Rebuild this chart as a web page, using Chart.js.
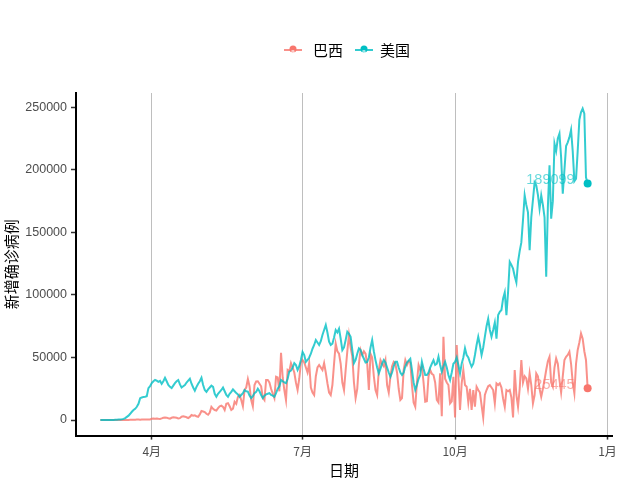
<!DOCTYPE html>
<html>
<head>
<meta charset="utf-8">
<script src="https://cdn.jsdelivr.net/npm/chart.js@4.4.1/dist/chart.umd.min.js"></script>
<style>
  html, body { margin: 0; padding: 0; background: #fff; }
</style>
</head>
<body>
<canvas id="casosChart" width="640" height="480"></canvas>
<script>
// Datos: casos nuevos diarios desde el 1 de marzo de 2020 (dia 0) hasta el 20 de diciembre
const series = ['巴西', '美国'];
const colores = ['#F8766D', '#00BFC4'];
const coloresLinea = ['rgba(248,118,109,0.8)', 'rgba(0,191,196,0.8)'];
const coloresTexto = ['rgba(248,118,109,0.6)', 'rgba(0,191,196,0.6)'];

const brasil = [
  0, 0, 0, 1, 1, 2, 5, 5, 10, 5,
  10, 20, 25, 30, 40, 60, 100, 120, 150, 200,
  250, 300, 350, 400, 300, 450, 500, 400, 500, 350,
  500, 1100, 1200, 1100, 1200, 1000, 900, 1300, 1800, 2100,
  1900, 1400, 1100, 1800, 2200, 2000, 1800, 1300, 1500, 2700,
  3000, 2700, 2200, 1500, 2500, 4000, 3500, 3800, 3000, 2500,
  4500, 7200, 6800, 6300, 5000, 4200, 6000, 10600, 9000, 8000,
  7500, 9500, 11000, 11500, 10500, 8000, 13000, 13500, 11000, 8000,
  9000, 14600, 13000, 18500, 20000, 16000, 11000, 24000, 26000, 32700,
  27000, 16000, 11000, 28000, 30800, 31000, 29000, 27000, 18000, 16000,
  32000, 32000, 30000, 25000, 21000, 17500, 34600, 34000, 23000, 53700,
  34000, 24000, 16000, 40000, 39000, 45500, 42000, 38000, 30000, 24000,
  33000, 46000, 47900, 46000, 42000, 38000, 45500, 26000, 22000, 20000,
  35000, 42000, 44000, 42000, 40000, 45500, 38000, 29400, 22000, 20000,
  28000, 45000, 61000, 55000, 53000, 45000, 30000, 24000, 40000, 55000,
  68000, 58000, 51000, 30000, 17500, 25000, 45000, 56000, 52000, 55000,
  53000, 45000, 24000, 53000, 50000, 35000, 24000, 20000, 40000, 47900,
  45000, 43000, 47900, 28000, 22000, 34600, 43000, 46500, 45000, 38000,
  25000, 16000, 17500, 40000, 47900, 44000, 47000, 46000, 28000, 14000,
  10600, 30000, 44000, 40000, 43000, 30000, 14600, 15000, 35000, 40000,
  37000, 36000, 30000, 16000, 14000, 37300, 3000, 66600, 33000, 30000,
  28000, 13300, 15000, 34600, 2000, 60000, 34600, 8000, 29300, 40000,
  28000, 26600, 14000, 25000, 8000, 24000, 10600, 26600, 24000, 22000,
  12000, 2000, 20000, 24000, 27000, 27900, 26000, 24000, 13300, 29300,
  28000, 29300, 26000, 17000, 10600, 24000, 23000, 24000, 18000, 2000,
  40000, 20000, 10600, 25000, 48000, 30000, 35000, 33300, 25000, 37300,
  28000, 13300, 20000, 37300, 35000, 25000, 18600, 25000, 32000, 40000,
  47000, 50600, 30000, 26600, 42000, 49200, 45000, 32000, 22000, 35000,
  48000, 50600, 52000, 54600, 45000, 30000, 21300, 45000, 56000, 62000,
  69200, 65000, 55000, 48000, 25445
];

const eeuu = [
  0, 0, 10, 20, 30, 50, 70, 100, 120, 200,
  300, 400, 500, 600, 900, 1500, 2500, 3500, 5000, 6600,
  8000, 9000, 10600, 13000, 17500, 18000, 18500, 18600, 19000, 25500,
  27000, 29500, 31000, 32000, 31500, 30500, 31300, 29000, 31000, 33800,
  31000, 28000, 26500, 25500, 27500, 29500, 31000, 32000, 28500, 26000,
  27000, 28000, 30000, 31500, 33000, 29000, 26000, 23500, 26500, 29000,
  31000, 33800, 28000, 24000, 22500, 24500, 26000, 27500, 26500, 21000,
  18600, 21000, 22500, 24000, 26000, 23000, 20000, 18600, 21000, 22500,
  24500, 23000, 21500, 20500, 18500, 20000, 21500, 24000, 23000, 22700,
  19500, 17500, 19000, 21500, 22500, 25000, 23000, 20000, 17500, 19500,
  20500, 21000, 21500, 20000, 19500, 18600, 21500, 25000, 27000, 32000,
  31000, 30000, 29400, 33000, 38700, 39500, 42000, 45500, 44000, 40000,
  43000, 48000, 54500, 52000, 46500, 48000, 50000, 53000, 57000, 60000,
  64000, 62000, 60000, 63000, 68000, 72000, 76000, 70000, 62600, 60000,
  61000, 66000, 72000, 70000, 73000, 65000, 55900, 58000, 64000, 70600,
  69000, 66600, 56000, 45500, 48000, 53000, 57300, 56000, 52000, 49000,
  46000, 46500, 50000, 58000, 64000, 55000, 47900, 42000, 37300, 41000,
  45000, 47900, 46000, 42000, 38000, 34600, 38000, 43000, 46500, 46500,
  42000, 38000, 36000, 38000, 43000, 46000, 47500, 49000, 40000, 30000,
  24000, 28000, 33000, 36000, 46500, 41000, 36000, 36000, 38000, 42000,
  45000, 47900, 44000, 45000, 50600, 44000, 38600, 43000, 46500, 42000,
  36000, 32000, 38000, 45000, 46500, 50000, 44000, 37300, 45000, 50000,
  57300, 52000, 50000, 46000, 42600, 45000, 52000, 60000, 66600, 60000,
  52000, 58000, 66600, 75000, 81000, 72000, 66600, 72000, 78000, 65000,
  83900, 86500, 88000, 97200, 102000, 83900, 102500, 126500, 124000, 121000,
  115000, 110000, 126500, 135000, 142000, 160000, 179700, 172000, 166000, 135800,
  162000, 176000, 190000, 187700, 180000, 168900, 179700, 172000, 162000, 114500,
  170000, 203700, 161000, 175000, 221000, 215000, 225000, 229000, 210000, 181000,
  200000, 219000, 222000, 226000, 232000, 215000, 191000, 193000, 215000, 240000,
  246000, 249000, 245000, 194000, 189099
];

// Ejes: dias desde el 1 de marzo
const xTickDias = [31, 122, 214, 306];
const xTickEtiquetas = ['4月', '7月', '10月', '1月'];
const yTicks = [0, 50000, 100000, 150000, 200000, 250000];
const yTickEtiquetas = ['0', '50000', '100000', '150000', '200000', '250000'];

const fuenteCJK = '"Noto Sans CJK SC", "Liberation Sans", sans-serif';
const fuenteNum = '"Liberation Sans", "Noto Sans CJK SC", sans-serif';

function aPuntos(arr) {
  return arr.map((v, i) => ({ x: i, y: v }));
}

// Etiquetas al final de cada serie
const etiquetasFinales = {
  id: 'etiquetasFinales',
  afterDatasetsDraw(chart) {
    const ctx = chart.ctx;
    ctx.save();
    chart.data.datasets.forEach((ds, i) => {
      const meta = chart.getDatasetMeta(i);
      const ultimo = meta.data[meta.data.length - 1];
      const valor = ds.data[ds.data.length - 1].y;
      ctx.fillStyle = coloresTexto[ds.serieIdx];
      ctx.font = '14.5px ' + fuenteNum;
      ctx.textAlign = 'right';
      ctx.textBaseline = 'middle';
      ctx.fillText(String(valor), ultimo.x - 13, ultimo.y - 3);
    });
    ctx.restore();
  }
};

// Leyenda arriba, al estilo ggplot
const leyenda = {
  id: 'leyendaArriba',
  afterDraw(chart) {
    const ctx = chart.ctx;
    const y = 50;
    const pos = [[293, 313], [364, 380]];
    ctx.save();
    series.forEach((nombre, i) => {
      const cx = pos[i][0], tx = pos[i][1];
      ctx.strokeStyle = coloresLinea[i];
      ctx.lineWidth = 2;
      ctx.beginPath();
      ctx.moveTo(cx - 9, y);
      ctx.lineTo(cx + 9, y);
      ctx.stroke();
      ctx.fillStyle = colores[i];
      ctx.beginPath();
      ctx.arc(cx, y - 1, 3.5, 0, Math.PI * 2);
      ctx.fill();
      ctx.fillStyle = 'rgba(255,255,255,0.75)';
      ctx.font = 'bold 7px ' + fuenteNum;
      ctx.textAlign = 'center';
      ctx.textBaseline = 'middle';
      ctx.fillText('a', cx, y + 2);
      ctx.fillStyle = '#000';
      ctx.font = '15px ' + fuenteCJK;
      ctx.textAlign = 'left';
      ctx.fillText(nombre, tx, y);
    });
    ctx.restore();
  }
};

window.addEventListener('load', function() {
  const n = eeuu.length;
  const radio = ctx => (ctx.dataIndex === n - 1 ? 4 : 0);

  const ctx = document.getElementById('casosChart').getContext('2d');
  new Chart(ctx, {
    type: 'line',
    data: {
      datasets: [
        {
          label: series[0],
          serieIdx: 0,
          data: aPuntos(brasil),
          borderColor: coloresLinea[0],
          backgroundColor: colores[0],
          pointBackgroundColor: colores[0],
          pointBorderWidth: 0,
          pointRadius: radio,
          borderWidth: 2,
          fill: false,
          order: 2
        },
        {
          label: series[1],
          serieIdx: 1,
          data: aPuntos(eeuu),
          borderColor: coloresLinea[1],
          backgroundColor: colores[1],
          pointBackgroundColor: colores[1],
          pointBorderWidth: 0,
          pointRadius: radio,
          borderWidth: 2,
          fill: false,
          order: 1
        }
      ]
    },
    options: {
      responsive: false,
      animation: false,
      layout: { padding: { top: 93, right: 28, left: 0, bottom: 0 } },
      plugins: {
        legend: { display: false },
        tooltip: { enabled: false }
      },
      elements: { line: { tension: 0 } },
      scales: {
        x: {
          type: 'linear',
          min: -14.7,
          max: 308.7,
          afterBuildTicks: s => { s.ticks = xTickDias.map(v => ({ value: v })); },
          afterFit: s => { s.height = 44.4; },
          ticks: {
            callback: (v, i) => xTickEtiquetas[i],
            color: '#4D4D4D',
            font: { size: 12, family: fuenteCJK },
            padding: 5,
            maxRotation: 0,
            autoSkip: false
          },
          grid: {
            color: '#BEBEBE',
            lineWidth: 1,
            drawTicks: true,
            tickLength: 4,
            tickColor: '#333333',
            tickWidth: 1.5
          },
          border: { display: true, color: '#000', width: 2 },
          title: {
            display: true,
            text: '日期',
            color: '#000',
            font: { size: 15, family: fuenteCJK },
            padding: { top: 0, bottom: 1 }
          }
        },
        y: {
          min: -12450,
          max: 261450,
          afterBuildTicks: s => { s.ticks = yTicks.map(v => ({ value: v })); },
          afterFit: s => { s.width = 76; },
          ticks: {
            callback: (v, i) => yTickEtiquetas[i],
            color: '#4D4D4D',
            font: { size: 12.5, family: fuenteNum },
            padding: 4
          },
          grid: {
            drawOnChartArea: false,
            drawTicks: true,
            tickLength: 5,
            tickColor: '#333333',
            tickWidth: 1.5
          },
          border: { display: true, color: '#000', width: 2 },
          title: {
            display: true,
            text: '新增确诊病例',
            color: '#000',
            font: { size: 15, family: fuenteCJK },
            padding: { top: 2.5, bottom: 0 }
          }
        }
      }
    },
    plugins: [etiquetasFinales, leyenda]
  });
});
</script>
</body>
</html>
